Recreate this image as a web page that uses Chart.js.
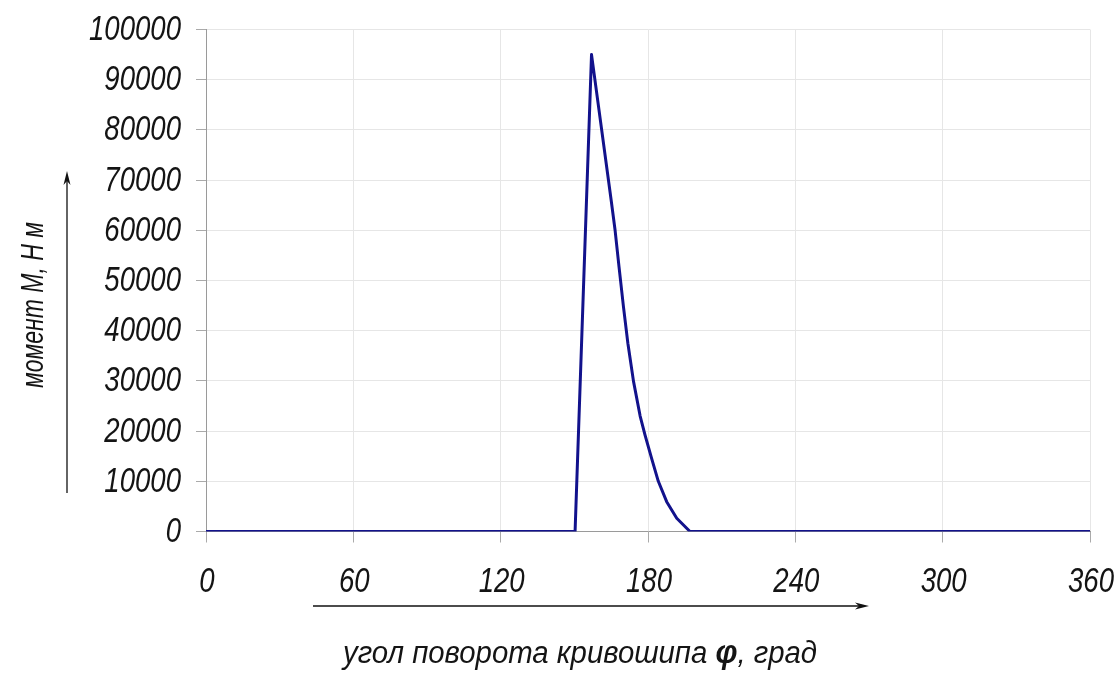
<!DOCTYPE html>
<html>
<head>
<meta charset="utf-8">
<script src="https://cdn.jsdelivr.net/npm/chart.js@4.4.0/dist/chart.umd.min.js"></script>
<style>
html,body{margin:0;padding:0;background:#fff;}
#wrap{width:1120px;height:677px;}
</style>
</head>
<body>
<div id="wrap"><canvas id="c" width="1120" height="677"></canvas></div>
<script>
// Data
const angles  = [0, 150.3, 157.0, 165.0, 166.6, 168.2, 170.0, 171.8, 174.1, 176.8, 178.8, 181.5, 184.2, 187.6, 191.7, 197.1, 360];
const moments = [0, 0, 95000, 66000, 60000, 52700, 44800, 37500, 29900, 23000, 19200, 14500, 10000, 5940, 2630, 0, 0];
const xTicks = [0, 60, 120, 180, 240, 300, 360];
const yTicks = [0, 10000, 20000, 30000, 40000, 50000, 60000, 70000, 80000, 90000, 100000];
const yTitle = "момент М, Н м";
const xTitleParts = ["угол поворота кривошипа ", "φ", ", град"];

const FONT = "'Liberation Sans', Arimo, sans-serif";
const TEXT = '#141414';

function drawNarrow(ctx, text, x, y, font, sx, align) {
  ctx.save();
  ctx.font = font;
  ctx.translate(x, y);
  ctx.scale(sx, 1);
  ctx.textAlign = align;
  ctx.textBaseline = 'alphabetic';
  ctx.fillText(text, 0, 0);
  ctx.restore();
}

const decor = {
  id: 'decor',
  afterDraw(chart) {
    const ctx = chart.ctx;
    const xs = chart.scales.x, ys = chart.scales.y;
    ctx.save();
    ctx.fillStyle = TEXT;
    const tickFont = "italic 35px " + FONT;
    ctx.font = tickFont;
    const sx = 92 / ctx.measureText("100000").width;

    // y tick labels
    yTicks.forEach(v => {
      drawNarrow(ctx, String(v), 181, ys.getPixelForValue(v) + 10.5, tickFont, sx, 'right');
    });
    // x tick labels
    xTicks.forEach(v => {
      drawNarrow(ctx, String(v), xs.getPixelForValue(v) + 1, 592, tickFont, sx, 'center');
    });

    // arrows
    ctx.strokeStyle = '#111';
    ctx.fillStyle = '#111';
    ctx.lineWidth = 1.3;
    ctx.beginPath(); ctx.moveTo(67, 493); ctx.lineTo(67, 180); ctx.stroke();
    ctx.beginPath(); ctx.moveTo(67, 171); ctx.lineTo(63.5, 185); ctx.lineTo(67, 181); ctx.lineTo(70.5, 185); ctx.closePath(); ctx.fill();
    ctx.beginPath(); ctx.moveTo(313, 606); ctx.lineTo(860, 606); ctx.stroke();
    ctx.beginPath(); ctx.moveTo(869, 606); ctx.lineTo(855, 602.5); ctx.lineTo(859, 606); ctx.lineTo(855, 609.5); ctx.closePath(); ctx.fill();

    // y title (rotated)
    ctx.fillStyle = TEXT;
    const yFont = "italic 32px " + FONT;
    ctx.font = yFont;
    const ysx = 166 / ctx.measureText(yTitle).width;
    ctx.save();
    ctx.translate(43, 305);
    ctx.rotate(-Math.PI / 2);
    ctx.scale(ysx, 1);
    ctx.textAlign = 'center';
    ctx.textBaseline = 'alphabetic';
    ctx.fillText(yTitle, 0, 0);
    ctx.restore();

    // x title with bold phi
    const fonts = ["italic 31px " + FONT, "italic bold 33px " + FONT, "italic 31px " + FONT];
    const widths = xTitleParts.map((t, i) => { ctx.font = fonts[i]; return ctx.measureText(t).width; });
    const total = widths.reduce((a, b) => a + b, 0);
    const xsx = 474 / total;
    ctx.save();
    ctx.translate(580 - 237, 663);
    ctx.scale(xsx, 1);
    ctx.textAlign = 'left';
    ctx.textBaseline = 'alphabetic';
    let px = 0;
    xTitleParts.forEach((t, i) => { ctx.font = fonts[i]; ctx.fillText(t, px, 0); px += widths[i]; });
    ctx.restore();
    ctx.restore();
  }
};

const noPad = s => { s.paddingLeft = 0; s.paddingRight = 0; s.paddingTop = 0; s.paddingBottom = 0; };

new Chart(document.getElementById('c'), {
  type: 'line',
  data: {
    datasets: [{
      data: angles.map((a, i) => ({ x: a, y: moments[i] })),
      borderColor: '#12128c',
      borderWidth: 3,
      pointRadius: 0,
      tension: 0,
      borderJoinStyle: 'round',
      fill: false
    }]
  },
  options: {
    responsive: false,
    animation: false,
    devicePixelRatio: 1,
    layout: { padding: { left: 0, top: 29.5, right: 30, bottom: 0 } },
    plugins: { legend: { display: false }, tooltip: { enabled: false } },
    scales: {
      x: {
        type: 'linear', min: 0, max: 360,
        afterBuildTicks: s => { s.ticks = xTicks.map(v => ({ value: v })); },
        afterFit: s => { s.height = 145.5; noPad(s); },
        grid: { color: '#e6e6e6', lineWidth: 1, tickLength: 11, tickColor: '#aaaaaa', drawTicks: true },
        border: { color: '#9a9a9a', width: 1 },
        ticks: { display: false }
      },
      y: {
        type: 'linear', min: 0, max: 100000,
        afterBuildTicks: s => { s.ticks = yTicks.map(v => ({ value: v })); },
        afterFit: s => { s.width = 206; noPad(s); },
        grid: { color: '#e6e6e6', lineWidth: 1, tickLength: 10, tickColor: '#aaaaaa', drawTicks: true },
        border: { color: '#9a9a9a', width: 1 },
        ticks: { display: false }
      }
    }
  },
  plugins: [decor]
});
</script>
</body>
</html>
